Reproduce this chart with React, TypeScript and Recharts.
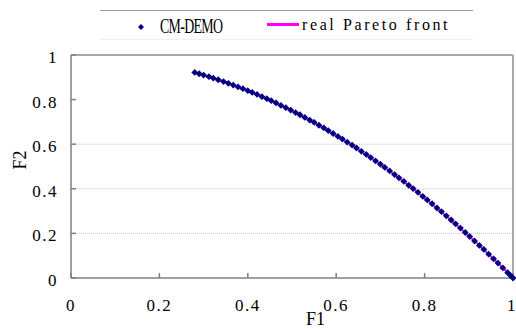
import { CartesianGrid, ReferenceLine, Scatter, ScatterChart, XAxis, YAxis } from 'recharts'

// CM-DEMO solutions (F1, F2)
const demoF1 = [
  0.28, 0.29, 0.3, 0.312, 0.322, 0.333, 0.345, 0.356, 0.367, 0.378, 0.389, 0.4, 0.41, 0.421, 0.432,
  0.443, 0.453, 0.464, 0.475, 0.486, 0.497, 0.508, 0.518, 0.529, 0.54, 0.55, 0.561, 0.572, 0.582,
  0.593, 0.604, 0.614, 0.625, 0.636, 0.646, 0.657, 0.668, 0.678, 0.689, 0.7, 0.71, 0.721, 0.732,
  0.742, 0.753, 0.764, 0.774, 0.785, 0.796, 0.806, 0.817, 0.828, 0.838, 0.849, 0.86, 0.87, 0.881,
  0.892, 0.902, 0.913, 0.924, 0.934, 0.945, 0.956, 0.966, 0.977, 0.988, 0.994, 1.0,
]
const demoF2 = [
  0.922, 0.916, 0.91, 0.903, 0.896, 0.889, 0.881, 0.873, 0.865, 0.857, 0.849, 0.84, 0.832, 0.823,
  0.813, 0.804, 0.795, 0.785, 0.774, 0.764, 0.753, 0.742, 0.732, 0.72, 0.708, 0.698, 0.685, 0.673,
  0.661, 0.648, 0.635, 0.623, 0.609, 0.596, 0.583, 0.568, 0.554, 0.54, 0.525, 0.51, 0.496, 0.48,
  0.464, 0.449, 0.433, 0.416, 0.401, 0.384, 0.366, 0.35, 0.333, 0.314, 0.298, 0.279, 0.26, 0.243,
  0.224, 0.204, 0.186, 0.166, 0.146, 0.128, 0.107, 0.086, 0.067, 0.045, 0.024, 0.012, 0.0,
]

// real Pareto front
const frontF1 = [0.28, 0.35, 0.42, 0.49, 0.56, 0.63, 0.7, 0.77, 0.84, 0.91, 0.97, 1.0]
const frontF2 = [0.922, 0.878, 0.824, 0.76, 0.686, 0.603, 0.51, 0.407, 0.294, 0.172, 0.059, 0.0]

const xTicks = [0, 0.2, 0.4, 0.6, 0.8, 1]
const yTicks = [0, 0.2, 0.4, 0.6, 0.8, 1]
const gridValues = [0.2, 0.4, 0.6]

const demo = demoF1.map((x, i) => ({ x, y: demoF2[i] }))
const front = frontF1.map((x, i) => ({ x, y: frontF2[i] }))

const FONT = '"Liberation Serif", "DejaVu Serif", serif'

const Diamond = (props: { cx?: number; cy?: number }) => {
  const { cx = 0, cy = 0 } = props
  const r = 3.4
  return <path d={`M${cx},${cy - r}L${cx + r},${cy}L${cx},${cy + r}L${cx - r},${cy}Z`} fill="#000080" />
}

const Nothing = () => <g />

type TickProps = { x?: number; y?: number; payload?: { value: number } }

const XTick = ({ x = 0, y = 0, payload }: TickProps) => (
  <text x={x} y={y} dy={12} textAnchor="middle" fill="#000" fontSize={17} fontFamily={FONT} letterSpacing={1.5}>
    {String(payload?.value ?? '')}
  </text>
)

const YTick = ({ x = 0, y = 0, payload }: TickProps) => (
  <text x={x} y={y} dy={8} textAnchor="end" fill="#000" fontSize={17} fontFamily={FONT} letterSpacing={1.5}>
    {String(payload?.value ?? '')}
  </text>
)

export default function App() {
  return (
    <div
      style={{
        position: 'absolute',
        left: 0,
        top: 0,
        width: 516,
        height: 329,
        background: '#fff',
        fontFamily: FONT,
      }}
    >
      <ScatterChart width={516} height={329} margin={{ top: 55, right: 3, bottom: 21, left: 0 }}>
        <CartesianGrid
          horizontal
          vertical={false}
          horizontalValues={gridValues}
          stroke="#c8c8c8"
          strokeDasharray="1 1"
        />
        <XAxis
          type="number"
          dataKey="x"
          domain={[0, 1]}
          ticks={xTicks}
          height={30}
          stroke="#808080"
          strokeWidth={1.5}
          tickSize={-5}
          tickMargin={26}
          tick={<XTick />}
        />
        <YAxis
          type="number"
          dataKey="y"
          domain={[0, 1]}
          ticks={yTicks}
          width={71}
          stroke="#808080"
          strokeWidth={1.5}
          tickSize={-5}
          tickMargin={18}
          tick={<YTick />}
        />
        <ReferenceLine y={1} stroke="#a8a8a8" strokeWidth={2} />
        <ReferenceLine x={1} stroke="#a8a8a8" strokeWidth={2} />
        <Scatter
          name="real Pareto front"
          data={front}
          line={{ stroke: '#ff00ff', strokeWidth: 2 }}
          lineType="joint"
          shape={Nothing}
          isAnimationActive={false}
        />
        <Scatter name="CM-DEMO" data={demo} shape={Diamond} isAnimationActive={false} />
      </ScatterChart>

      {/* legend */}
      <div
        style={{
          position: 'absolute',
          left: 100,
          top: 10,
          width: 373,
          height: 28,
          borderTop: '1px solid #a0a0a0',
          borderBottom: '1px solid #f0f0f0',
        }}
      />
      <svg style={{ position: 'absolute', left: 136, top: 22 }} width={10} height={10}>
        <path d="M5,2L8,5L5,8L2,5Z" fill="#000080" />
      </svg>
      <div
        style={{
          position: 'absolute',
          left: 160,
          top: 14,
          fontSize: 21,
          lineHeight: '24px',
          transform: 'scaleX(0.66)',
          transformOrigin: 'left center',
          whiteSpace: 'nowrap',
          letterSpacing: -1,
        }}
      >
        CM-DEMO
      </div>
      <div style={{ position: 'absolute', left: 267, top: 23, width: 32, height: 3, background: '#ff00ff' }} />
      <div
        style={{
          position: 'absolute',
          left: 302,
          top: 14,
          fontSize: 16,
          lineHeight: '22px',
          letterSpacing: 2.6,
          whiteSpace: 'nowrap',
        }}
      >
        real Pareto front
      </div>

      {/* axis titles */}
      <div style={{ position: 'absolute', left: 306, top: 311, fontSize: 18, lineHeight: '17px' }}>F1</div>
      <div
        style={{
          position: 'absolute',
          left: 10,
          top: 149,
          fontSize: 18,
          lineHeight: '22px',
          transform: 'rotate(-90deg)',
          transformOrigin: 'center',
        }}
      >
        F2
      </div>
    </div>
  )
}
